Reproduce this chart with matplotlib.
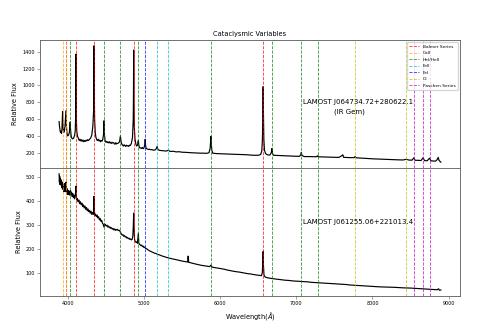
import matplotlib
matplotlib.use('Agg')
from matplotlib import pyplot as plt

# IR Gem spectrum (top panel)
top_wave = [3880, 3885, 3892, 3898, 3905, 3912, 3918, 3926, 3932, 3940,
            3950, 3958, 3965, 3970, 3976, 3985, 3995, 4005, 4015, 4022,
            4026, 4031, 4040, 4050, 4060, 4072, 4085, 4093, 4098, 4102,
            4106, 4112, 4122, 4135, 4145, 4155, 4165, 4175, 4185, 4195,
            4205, 4215, 4225, 4235, 4245, 4255, 4265, 4280, 4295, 4310,
            4324, 4334, 4337, 4340, 4343, 4347, 4355, 4365, 4375, 4385,
            4395, 4405, 4415, 4425, 4435, 4445, 4455, 4466, 4471, 4476,
            4485, 4495, 4505, 4515, 4525, 4535, 4545, 4555, 4565, 4575,
            4585, 4595, 4605, 4615, 4625, 4635, 4645, 4660, 4675, 4686,
            4695, 4705, 4715, 4725, 4735, 4745, 4755, 4765, 4775, 4785,
            4795, 4805, 4815, 4830, 4845, 4855, 4858, 4861, 4864, 4868,
            4878, 4890, 4900, 4912, 4918, 4922, 4927, 4935, 4945, 4955,
            4965, 4975, 4985, 4995, 5008, 5012, 5017, 5025, 5040, 5055,
            5070, 5085, 5100, 5120, 5140, 5160, 5169, 5178, 5200, 5230,
            5260, 5290, 5316, 5340, 5380, 5420, 5460, 5500, 5540, 5580,
            5620, 5660, 5700, 5740, 5780, 5820, 5850, 5866, 5872, 5876,
            5880, 5888, 5900, 5950, 6000, 6050, 6100, 6150, 6200, 6250,
            6300, 6350, 6400, 6450, 6500, 6530, 6545, 6553, 6558, 6563,
            6567, 6572, 6580, 6595, 6620, 6650, 6670, 6678, 6686, 6700,
            6750, 6800, 6850, 6900, 6950, 7000, 7040, 7058, 7065, 7072,
            7100, 7150, 7200, 7260, 7275, 7281, 7288, 7350, 7400, 7450,
            7500, 7560, 7605, 7610, 7620, 7700, 7760, 7773, 7785, 7850,
            7900, 7950, 8000, 8050, 8100, 8150, 8200, 8250, 8300, 8350,
            8400, 8446, 8480, 8520, 8545, 8560, 8600, 8640, 8665, 8685,
            8720, 8750, 8770, 8800, 8830, 8850, 8865, 8875, 8890, 8900]
top_flux = [570, 520, 470, 440, 455, 430, 480, 690, 520, 440,
            460, 520, 620, 700, 520, 420, 400, 410, 440, 520,
            566, 470, 390, 370, 365, 375, 410, 470, 650, 1370,
            640, 460, 395, 370, 345, 360, 340, 355, 335, 350,
            330, 345, 335, 350, 340, 355, 345, 360, 375, 410,
            520, 700, 1000, 1470, 900, 600, 440, 380, 355, 345,
            360, 340, 350, 330, 345, 340, 360, 430, 580, 420,
            340, 325, 335, 320, 330, 315, 330, 320, 310, 325,
            315, 320, 310, 300, 320, 305, 310, 315, 330, 400,
            330, 300, 290, 280, 295, 285, 275, 290, 280, 285,
            275, 290, 285, 310, 380, 600, 900, 1420, 850, 520,
            360, 300, 280, 290, 330, 345, 300, 265, 255, 260,
            250, 262, 248, 255, 300, 360, 290, 250, 245, 238,
            242, 235, 238, 230, 232, 250, 275, 240, 228, 225,
            222, 220, 230, 215, 218, 210, 212, 206, 205, 202,
            200, 198, 197, 195, 195, 193, 200, 250, 330, 395,
            320, 230, 195, 190, 188, 186, 184, 182, 181, 180,
            178, 176, 172, 170, 170, 180, 220, 350, 600, 985,
            650, 360, 230, 190, 175, 172, 200, 250, 190, 170,
            168, 166, 165, 163, 160, 158, 158, 175, 205, 170,
            155, 155, 154, 152, 160, 165, 152, 150, 148, 146,
            146, 145, 170, 176, 146, 142, 142, 156, 140, 136,
            134, 130, 128, 126, 124, 122, 120, 118, 117, 116,
            114, 122, 113, 112, 140, 110, 110, 108, 140, 106,
            105, 135, 104, 102, 100, 118, 145, 110, 95, 88]

# LAMOST J061255.06+221013.4 (bottom panel)
bot_wave = [3880, 3884, 3888, 3892, 3896, 3900, 3905, 3910, 3915, 3920,
            3925, 3930, 3935, 3940, 3945, 3950, 3955, 3960, 3965, 3970,
            3975, 3980, 3985, 3990, 3995, 4000, 4008, 4016, 4024, 4030,
            4036, 4044, 4052, 4060, 4068, 4076, 4084, 4092, 4098, 4102,
            4106, 4112, 4120, 4130, 4140, 4150, 4160, 4170, 4180, 4190,
            4200, 4210, 4220, 4230, 4240, 4250, 4260, 4270, 4280, 4290,
            4300, 4310, 4320, 4330, 4337, 4340, 4344, 4350, 4360, 4370,
            4380, 4390, 4400, 4410, 4420, 4430, 4440, 4450, 4460, 4470,
            4480, 4490, 4500, 4510, 4520, 4530, 4540, 4550, 4560, 4570,
            4580, 4590, 4600, 4610, 4620, 4630, 4640, 4650, 4660, 4675,
            4686, 4700, 4710, 4720, 4730, 4740, 4750, 4760, 4770, 4780,
            4790, 4800, 4810, 4820, 4830, 4840, 4850, 4856, 4861, 4866,
            4872, 4880, 4890, 4900, 4910, 4916, 4922, 4928, 4935, 4945,
            4955, 4965, 4975, 4985, 4995, 5005, 5015, 5030, 5050, 5070,
            5090, 5110, 5130, 5150, 5170, 5200, 5230, 5260, 5290, 5320,
            5350, 5380, 5420, 5460, 5500, 5540, 5570, 5577, 5584, 5620,
            5660, 5700, 5740, 5780, 5820, 5860, 5876, 5890, 5920, 5960,
            6000, 6050, 6100, 6150, 6200, 6250, 6300, 6350, 6400, 6450,
            6500, 6540, 6552, 6558, 6563, 6567, 6574, 6590, 6620, 6660,
            6700, 6750, 6800, 6850, 6900, 6950, 7000, 7050, 7100, 7150,
            7200, 7250, 7300, 7350, 7400, 7450, 7500, 7550, 7600, 7650,
            7700, 7750, 7800, 7850, 7900, 7950, 8000, 8100, 8200, 8300,
            8400, 8500, 8600, 8700, 8800, 8850, 8870, 8880, 8900]
bot_flux = [515, 480, 505, 470, 495, 475, 490, 465, 478, 455,
            480, 450, 470, 440, 462, 448, 475, 440, 465, 480,
            445, 455, 430, 450, 428, 445, 430, 442, 425, 445,
            428, 438, 420, 432, 415, 425, 410, 425, 440, 463,
            420, 405, 412, 398, 405, 390, 398, 385, 392, 378,
            385, 372, 380, 366, 374, 360, 368, 356, 362, 350,
            358, 345, 352, 345, 390, 421, 360, 340, 346, 335,
            342, 330, 335, 322, 328, 316, 320, 308, 304, 292,
            305, 300, 296, 300, 292, 296, 289, 292, 286, 289,
            283, 286, 280, 284, 278, 282, 279, 282, 277, 278,
            270, 262, 258, 260, 253, 256, 250, 252, 246, 248,
            243, 245, 240, 242, 238, 240, 255, 300, 350, 290,
            240, 232, 228, 230, 224, 245, 266, 225, 220, 218,
            214, 216, 210, 212, 206, 208, 203, 201, 196, 192,
            189, 186, 183, 181, 178, 175, 171, 168, 165, 162,
            160, 158, 155, 152, 149, 147, 145, 170, 144, 141,
            138, 135, 132, 130, 128, 126, 132, 124, 122, 120,
            118, 115, 111, 108, 105, 103, 100, 97, 95, 92,
            90, 88, 100, 140, 190, 130, 90, 82, 79, 77,
            75, 73, 71, 69, 68, 66, 65, 64, 63, 62,
            60, 59, 58, 57, 56, 55, 54, 53, 52, 51,
            49, 48, 47, 46, 45, 44, 43, 41, 40, 39,
            37, 36, 34, 32, 30, 29, 33, 27, 28]

# line identifications
balmer = [3970.1, 4101.7, 4340.5, 4861.3, 6562.8]
caii = [3933.7, 3968.5]
hei_heii = [4026.2, 4471.5, 4685.7, 4921.9, 5875.6, 6678.2, 7065.2, 7281.3]
feii = [5169.0, 5316.6]
fei = [5010.0]
oi = [7773.4, 8446.4]
paschen = [8545.4, 8665.0, 8750.5]

line_groups = [(balmer, 'red', 'Balmer Series'),
               (caii, 'orange', 'CaII'),
               (hei_heii, 'green', 'HeI/HeII'),
               (feii, 'c', 'FeII'),
               (fei, 'b', 'FeI'),
               (oi, 'y', 'OI'),
               (paschen, 'm', 'Paschen Series')]

fig = plt.figure(figsize=(5, 3.33), dpi=100)
ax1 = fig.add_axes([0.08, 0.4955, 0.84, 0.3845])
ax2 = fig.add_axes([0.08, 0.111, 0.84, 0.3845], sharex=ax1)

ax1.plot(top_wave, top_flux, color='k', lw=0.85)
ax2.plot(bot_wave, bot_flux, color='k', lw=0.85)

for ax in (ax1, ax2):
    for waves, col, name in line_groups:
        for i, w in enumerate(waves):
            lab = name if (ax is ax1 and i == 0) else None
            ax.axvline(w, color=col, ls='--', lw=0.6, alpha=0.8, label=lab)
    for sp in ax.spines.values():
        sp.set_linewidth(0.6)
        sp.set_color('0.35')
    ax.tick_params(labelsize=3.5, width=0.4, length=2, pad=1.5, color='0.35')
    ax.set_ylabel('Relative Flux', fontsize=4.8, labelpad=3)

ax1.set_yticks([200, 400, 600, 800, 1000, 1200, 1400])
ax2.set_yticks([100, 200, 300, 400, 500])
ax1.tick_params(labelbottom=False)
ax2.set_xticks([4000, 5000, 6000, 7000, 8000, 9000])

ax1.set_title('Cataclysmic Variables', fontsize=4.8, pad=3)
ax2.set_xlabel(r'Wavelength($\AA$)', fontsize=4.8, labelpad=3)

ax1.text(7090, 802, 'LAMOST J064734.72+280622.1', fontsize=5, va='center')
ax1.text(7500, 682, '(IR Gem)', fontsize=5, va='center')
ax2.text(7090, 311, 'LAMOST J061255.06+221013.4', fontsize=5, va='center')

ax1.legend(loc='upper right', fontsize=3.2, handlelength=2.2, labelspacing=0.55,
           borderpad=0.5, framealpha=0.8)

fig.savefig('out.png', dpi=100)
